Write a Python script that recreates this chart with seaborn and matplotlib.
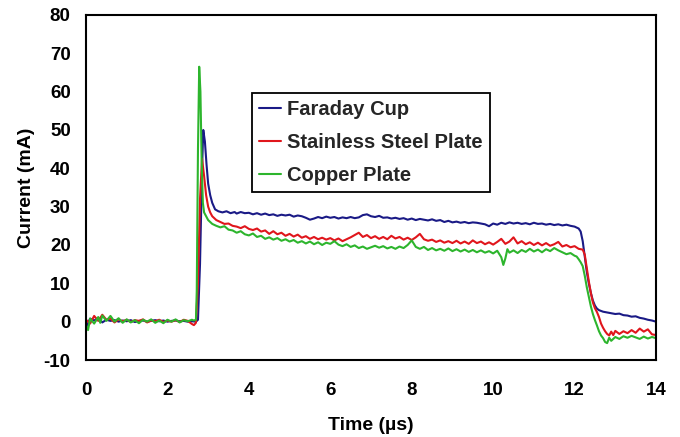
import numpy as np
import pandas as pd
import matplotlib
matplotlib.use("Agg")
import matplotlib.pyplot as plt
import seaborn as sns
from matplotlib.ticker import MultipleLocator
from matplotlib.lines import Line2D

# ---------------- data ----------------
series_names = ["Faraday Cup", "Stainless Steel Plate", "Copper Plate"]
series_colors = ["#1a1a86", "#e0161c", "#2db52d"]

fc_t = [0.0, 0.1, 0.2, 0.3, 0.4, 0.5, 0.6, 0.7, 0.8, 0.9, 1.0, 1.1, 1.2, 1.3, 1.4, 1.5,
        1.6, 1.7, 1.8, 1.9, 2.0, 2.1, 2.2, 2.3, 2.4, 2.5, 2.6, 2.7,
        2.75, 2.8, 2.85, 2.88, 2.92, 2.96, 3.0, 3.05, 3.1, 3.17, 3.25, 3.35, 3.45, 3.55, 3.65,
        3.7, 3.8, 3.9, 4.0, 4.1, 4.2, 4.3, 4.4, 4.5, 4.6, 4.7, 4.8, 4.9, 5.0, 5.1, 5.2, 5.3,
        5.4, 5.5, 5.6, 5.7, 5.8, 5.9, 6.0, 6.1, 6.2, 6.3, 6.4, 6.5, 6.6, 6.7, 6.8, 6.9, 7.0,
        7.1, 7.2, 7.3, 7.4, 7.5, 7.6, 7.7, 7.8, 7.9, 8.0, 8.1, 8.2, 8.3, 8.4, 8.5, 8.6, 8.7,
        8.8, 8.9, 9.0, 9.1, 9.2, 9.3, 9.4, 9.5, 9.6, 9.7, 9.8, 9.9, 10.0, 10.1, 10.2, 10.3,
        10.4, 10.5, 10.6, 10.7, 10.8, 10.9, 11.0, 11.1, 11.2, 11.3, 11.4, 11.5, 11.6, 11.7,
        11.8, 11.9, 12.0, 12.1, 12.15, 12.2, 12.25, 12.3, 12.35, 12.4, 12.45, 12.5, 12.55,
        12.6, 12.7, 12.8, 12.9, 13.0, 13.1, 13.2, 13.3, 13.4, 13.5, 13.6, 13.7, 13.8, 13.9, 14.0]
fc_i = [-1.5, 0.8, 0.3, 1.0, -0.2, 0.5, 0.2, 0.4, 0.0, 0.3, 0.1, 0.4, -0.1, 0.2, 0.3, 0.0,
        0.2, 0.4, 0.1, 0.3, 0.0, 0.2, 0.3, 0.1, 0.2, 0.0, 0.1, 0.0,
        0.5, 15.0, 40.0, 50.0, 47.0, 41.0, 36.0, 33.0, 31.0, 29.3, 28.8, 28.5, 28.8, 28.3, 28.6,
        28.2, 28.6, 28.3, 28.4, 28.0, 28.3, 27.9, 28.2, 27.8, 28.0, 27.6, 27.9, 27.7, 27.9, 27.4, 27.7, 27.5,
        27.1, 26.6, 26.9, 27.3, 27.0, 27.4, 27.1, 27.3, 26.9, 27.2, 27.0, 27.3, 27.0, 27.2, 27.8, 28.0, 27.5,
        27.3, 27.6, 27.1, 27.2, 26.9, 27.1, 26.8, 27.0, 26.6, 26.9, 26.5, 26.8, 26.6, 26.4, 26.7, 26.3, 26.5,
        26.0, 26.3, 25.9, 26.1, 25.8, 26.0, 25.7, 25.9, 25.8, 25.6, 25.4, 24.9, 25.6, 25.3, 25.8, 25.5,
        25.9, 25.6, 25.8, 25.5, 25.7, 25.4, 25.8, 25.5, 25.6, 25.3, 25.5, 25.2, 25.4, 25.1,
        25.3, 25.0, 24.8, 24.3, 23.5, 21.0, 17.0, 13.0, 10.0, 7.5, 5.5, 4.2, 3.4,
        3.0, 2.6, 2.4, 2.2, 2.0, 2.1, 1.7, 1.6, 1.3, 1.4, 1.0, 0.8, 0.5, 0.3, 0.0]

ss_t = [0.0, 0.1, 0.2, 0.3, 0.4, 0.5, 0.6, 0.7, 0.8, 0.9, 1.0, 1.1, 1.2, 1.3, 1.4, 1.5,
        1.6, 1.7, 1.8, 1.9, 2.0, 2.1, 2.2, 2.3, 2.4, 2.5, 2.6, 2.65, 2.7,
        2.75, 2.8, 2.85, 2.9, 2.95, 3.0, 3.05, 3.1, 3.2, 3.3, 3.4, 3.5, 3.6, 3.7, 3.8, 3.9,
        4.0, 4.1, 4.2, 4.3, 4.4, 4.5, 4.6, 4.7, 4.8, 4.9, 5.0, 5.1, 5.2, 5.3, 5.4, 5.5, 5.6,
        5.7, 5.8, 5.9, 6.0, 6.1, 6.2, 6.3, 6.4, 6.5, 6.6, 6.7, 6.8, 6.9, 7.0, 7.1, 7.2, 7.3,
        7.4, 7.5, 7.6, 7.7, 7.8, 7.9, 8.0, 8.1, 8.2, 8.3, 8.4, 8.5, 8.6, 8.7, 8.8, 8.9, 9.0,
        9.1, 9.2, 9.3, 9.4, 9.5, 9.6, 9.7, 9.8, 9.9, 10.0, 10.1, 10.2, 10.3, 10.4, 10.5, 10.6,
        10.7, 10.8, 10.9, 11.0, 11.1, 11.2, 11.3, 11.4, 11.5, 11.6, 11.7, 11.8, 11.9, 12.0,
        12.1, 12.2, 12.25, 12.3, 12.35, 12.4, 12.45, 12.5, 12.55, 12.6, 12.65, 12.7, 12.75,
        12.8, 12.85, 12.9, 12.95, 13.0, 13.1, 13.2, 13.3, 13.4, 13.5, 13.6, 13.7, 13.8, 13.9, 14.0]
ss_i = [0.5, -0.5, 1.5, 0.2, 1.8, 0.5, 0.8, -0.2, 0.6, 0.1, 0.5, -0.1, 0.4, 0.2, 0.6, -0.2,
        0.3, 0.1, 0.5, -0.1, 0.3, 0.0, 0.4, -0.1, 0.5, 0.2, -0.6, -0.9, -0.3,
        10.0, 32.0, 42.5, 38.0, 33.0, 30.0, 28.5, 27.5, 26.5, 26.0, 25.5, 25.6, 25.0, 24.8, 24.4, 24.9,
        24.2, 23.9, 24.3, 23.5, 23.8, 22.9, 23.6, 22.8, 23.2, 22.4, 22.9, 22.2, 22.7, 21.9, 22.3, 21.6, 22.1,
        21.5, 21.9, 21.4, 21.8, 21.2, 21.7, 21.0, 21.5, 22.0, 22.6, 23.2, 22.1, 22.6, 21.8, 22.3, 21.6, 22.1,
        21.5, 22.4, 21.7, 22.1, 21.4, 21.9, 21.3, 22.0, 22.9, 21.5, 21.1, 21.4, 20.8, 21.2, 20.6, 21.0, 20.5,
        21.1, 20.4, 20.9, 20.3, 21.2, 20.5, 20.9, 20.2, 20.7, 20.1, 20.8, 21.6, 20.3, 20.9, 22.0, 20.4,
        21.0, 20.2, 20.7, 20.0, 20.6, 19.9, 20.5, 19.8, 20.2, 20.8, 19.6, 20.0, 19.4, 19.7,
        19.0, 18.8, 17.5, 14.0, 10.5, 7.5, 5.0, 3.5, 2.5, 1.2, -0.5, -1.6, -2.5,
        -3.2, -3.6, -2.6, -3.5, -2.4, -3.2, -2.5, -3.0, -2.2, -2.9, -1.8, -2.6, -2.0, -3.3, -3.5]

cu_t = [0.0, 0.05, 0.1, 0.2, 0.3, 0.35, 0.4, 0.5, 0.6, 0.7, 0.8, 0.9, 1.0, 1.1, 1.2, 1.3,
        1.4, 1.5, 1.6, 1.7, 1.8, 1.9, 2.0, 2.1, 2.2, 2.3, 2.4, 2.5, 2.6, 2.65, 2.7,
        2.72, 2.75, 2.78, 2.81, 2.84, 2.87, 2.9, 2.95, 3.0, 3.1, 3.2, 3.3, 3.4, 3.5, 3.6, 3.7,
        3.8, 3.9, 4.0, 4.1, 4.2, 4.3, 4.4, 4.5, 4.6, 4.7, 4.8, 4.9, 5.0, 5.1, 5.2, 5.3, 5.4,
        5.5, 5.6, 5.7, 5.8, 5.9, 6.0, 6.1, 6.2, 6.3, 6.4, 6.5, 6.6, 6.7, 6.8, 6.9, 7.0, 7.1,
        7.2, 7.3, 7.4, 7.5, 7.6, 7.7, 7.8, 7.9, 8.0, 8.1, 8.2, 8.3, 8.4, 8.5, 8.6, 8.7, 8.8,
        8.9, 9.0, 9.1, 9.2, 9.3, 9.4, 9.5, 9.6, 9.7, 9.8, 9.9, 10.0, 10.1, 10.2, 10.25, 10.3,
        10.35, 10.4, 10.5, 10.6, 10.7, 10.8, 10.9, 11.0, 11.1, 11.2, 11.3, 11.4, 11.5, 11.6,
        11.7, 11.8, 11.9, 12.0, 12.05, 12.1, 12.15, 12.2, 12.25, 12.3, 12.35, 12.4, 12.45,
        12.5, 12.55, 12.6, 12.65, 12.7, 12.75, 12.8, 12.85, 12.9, 13.0, 13.1, 13.2, 13.3,
        13.4, 13.5, 13.6, 13.7, 13.8, 13.9, 14.0]
cu_i = [-1.0, -2.2, 0.8, -0.5, 1.2, -0.3, 1.6, 0.2, 1.5, 0.0, 0.9, -0.3, 0.6, -0.2, 0.4, -0.4,
        0.5, 0.0, 0.6, -0.3, 0.3, -0.4, 0.5, 0.0, 0.6, -0.2, 0.4, 0.1, 0.5, 0.3, 0.5,
        8.0, 45.0, 66.5, 60.0, 42.0, 31.0, 28.5, 27.5, 26.5, 25.5, 25.0, 24.6, 24.9, 24.0, 23.8, 23.2,
        23.6, 22.8, 22.5, 23.0, 22.1, 22.4, 21.6, 22.0, 21.4, 21.8, 21.1, 21.5, 20.9, 21.3, 20.6, 21.0, 20.4,
        20.9, 20.2, 20.7, 20.0, 20.6, 20.3, 21.0, 20.1, 19.7, 20.2, 19.5, 19.9, 19.2, 19.6, 19.0, 19.4, 19.8,
        19.3, 19.7, 19.1, 19.5, 19.0, 19.6, 19.2, 20.0, 21.2, 19.5, 19.0, 19.5, 18.7, 19.2, 18.6, 19.0, 18.5,
        19.1, 18.4, 18.9, 18.3, 18.8, 18.2, 18.7, 18.1, 18.6, 18.0, 18.4, 17.8, 18.5, 16.8, 14.8, 16.5,
        18.9, 18.0, 18.6, 17.9, 18.7, 18.2, 19.0, 18.3, 18.8, 18.1, 18.9, 18.4, 19.2, 18.6,
        18.1, 17.6, 17.9, 17.2, 17.0, 16.3, 15.5, 14.5, 12.0, 9.0, 6.5, 4.0, 2.0,
        0.4, -1.0, -2.5, -3.6, -4.3, -5.3, -5.6, -4.2, -5.0, -4.0, -4.5, -3.8, -4.2,
        -3.7, -4.1, -4.5, -3.9, -4.4, -4.0, -4.3]

x_ticks = [0, 2, 4, 6, 8, 10, 12, 14]
y_ticks = [-10, 0, 10, 20, 30, 40, 50, 60, 70, 80]

df = pd.concat([
    pd.DataFrame({"Time": fc_t, "Current": fc_i, "Series": series_names[0]}),
    pd.DataFrame({"Time": ss_t, "Current": ss_i, "Series": series_names[1]}),
    pd.DataFrame({"Time": cu_t, "Current": cu_i, "Series": series_names[2]}),
], ignore_index=True)

# ---------------- styling ----------------
sns.set_theme(style="white")
plt.rcParams['font.family'] = ['Liberation Sans', 'DejaVu Sans']
plt.rcParams['font.weight'] = 'bold'
plt.rcParams['axes.unicode_minus'] = False

fig = plt.figure(figsize=(6.8, 4.37), dpi=100)
ax = fig.add_axes([0.1265, 0.1762, 0.8382, 0.7895])

sns.lineplot(data=df, x="Time", y="Current", hue="Series", hue_order=series_names,
             palette=series_colors, estimator=None, sort=False, linewidth=1.5, ax=ax,
             legend=False)

ax.set_xlim(0, 14)
ax.set_ylim(-10, 80)
ax.set_xticks(x_ticks)
ax.set_yticks(y_ticks)
ax.xaxis.set_minor_locator(MultipleLocator(0.5))
ax.yaxis.set_minor_locator(MultipleLocator(5))
ax.tick_params(axis="both", which="major", direction="in", length=5, width=1.2,
               labelsize=13.5, color="black", labelcolor="black")
ax.tick_params(axis="x", which="major", pad=16)
ax.tick_params(axis="y", which="major", pad=11)
ax.tick_params(axis="both", which="minor", direction="in", length=3, width=1.2, color="black")
for lbl in ax.get_xticklabels() + ax.get_yticklabels():
    lbl.set_fontweight("bold")

for s in ax.spines.values():
    s.set_visible(True)
    s.set_color("black")
    s.set_linewidth(1.5)

ax.set_xlabel("Time (µs)", fontsize=14, fontweight="bold", color="black", labelpad=13)
ax.set_ylabel("Current (mA)", fontsize=14, fontweight="bold", color="black", labelpad=6)

handles = [Line2D([0], [0], color=c, lw=1.5) for c in series_colors]
leg = ax.legend(handles, series_names, loc="upper left", bbox_to_anchor=(0.291, 0.774),
                frameon=True, fancybox=False, framealpha=1, edgecolor="black",
                prop={"weight": "bold", "size": 14.5}, handlelength=1.1, handletextpad=0.3,
                labelspacing=0.7, borderpad=0.35, borderaxespad=0)
leg.get_frame().set_linewidth(1.3)

fig.savefig("out.png", dpi=100)
